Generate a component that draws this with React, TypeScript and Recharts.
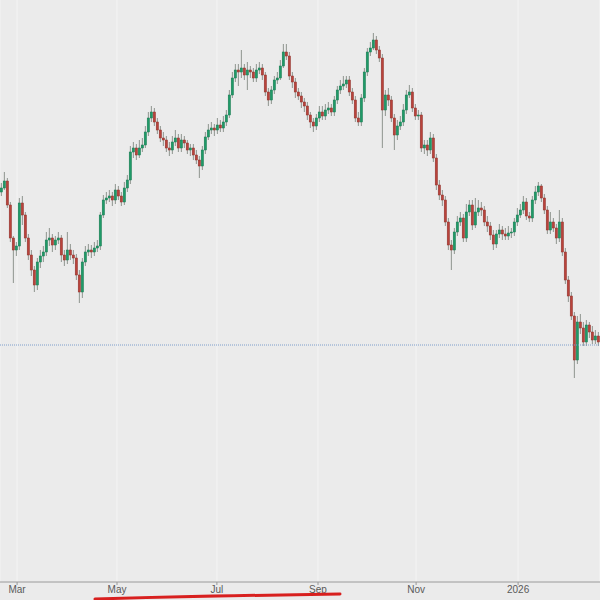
import React from "react";
import {
  ComposedChart,
  Bar,
  XAxis,
  YAxis,
  CartesianGrid,
  ReferenceLine,
} from "recharts";

// daily candles (arbitrary price units)
const firstOpen = 808;

const closes = [
  812, 819, 795, 762, 750, 754, 797, 785, 762, 745, 730, 715, 738, 744, 748, 760, 762, 755, 760, 762,
  745, 740, 750, 745, 742, 725, 708, 738, 748, 750, 748, 752, 754, 785, 800, 802, 804, 800, 810, 804,
  798, 812, 820, 848, 852, 845, 852, 855, 868, 882, 888, 878, 870, 862, 860, 852, 850, 858, 862, 852,
  860, 857, 850, 852, 845, 840, 834, 850, 863, 870, 872, 870, 875, 872, 878, 885, 905, 922, 930, 928,
  932, 925, 930, 928, 922, 930, 932, 925, 908, 900, 910, 920, 922, 934, 948, 944, 924, 918, 908, 904,
  898, 894, 885, 878, 874, 882, 888, 884, 890, 892, 888, 900, 910, 914, 916, 920, 908, 900, 882, 878,
  902, 928, 948, 952, 960, 950, 942, 890, 905, 900, 882, 865, 874, 878, 890, 905, 908, 892, 884, 885,
  852, 855, 850, 862, 842, 815, 805, 800, 778, 755, 750, 768, 778, 782, 762, 788, 795, 775, 788, 792,
  790, 778, 774, 765, 756, 766, 770, 766, 764, 767, 768, 778, 785, 790, 798, 784, 782, 800, 808, 814,
  802, 790, 770, 778, 772, 762, 778, 748, 720, 704, 684, 640, 678, 672, 658, 675, 668, 660, 664, 658,
];

const highs = [
  817, 828, 822, 798, 764, 758, 802, 804, 788, 766, 750, 734, 742, 750, 754, 768, 772, 766, 764, 768,
  765, 750, 768, 756, 750, 746, 730, 742, 754, 756, 755, 758, 760, 788, 805, 808, 810, 808, 816, 814,
  808, 818, 825, 854, 858, 856, 860, 862, 874, 888, 894, 892, 882, 874, 868, 864, 858, 864, 870, 866,
  866, 864, 860, 856, 856, 850, 844, 854, 868, 876, 878, 876, 882, 880, 884, 890, 910, 928, 936, 936,
  950, 936, 938, 934, 932, 936, 938, 936, 928, 912, 914, 924, 928, 940, 956, 956, 948, 928, 922, 912,
  908, 902, 898, 888, 882, 886, 894, 894, 896, 898, 896, 904, 914, 920, 924, 924, 924, 912, 904, 888,
  906, 932, 952, 958, 967, 964, 954, 946, 910, 912, 904, 886, 880, 884, 896, 910, 915, 912, 896, 890,
  888, 860, 860, 868, 866, 846, 820, 810, 804, 782, 760, 772, 784, 788, 786, 796, 800, 800, 802, 800,
  798, 794, 784, 778, 770, 770, 776, 774, 772, 774, 772, 782, 792, 796, 804, 802, 788, 804, 814, 818,
  816, 806, 794, 788, 782, 776, 790, 782, 752, 724, 708, 688, 684, 686, 678, 680, 678, 674, 670, 668,
];

const lows = [
  804, 810, 792, 758, 717, 744, 750, 775, 758, 740, 724, 708, 710, 732, 738, 744, 754, 748, 750, 756,
  738, 734, 736, 740, 736, 720, 697, 702, 734, 744, 742, 744, 748, 750, 782, 796, 798, 794, 796, 800,
  794, 795, 808, 816, 842, 840, 842, 848, 852, 864, 878, 874, 866, 858, 854, 848, 844, 846, 854, 848,
  848, 852, 846, 844, 840, 836, 822, 830, 846, 860, 866, 864, 866, 868, 868, 874, 882, 902, 918, 914,
  922, 920, 910, 922, 918, 918, 926, 920, 904, 894, 896, 906, 916, 920, 932, 940, 920, 912, 902, 900,
  892, 888, 880, 872, 868, 870, 878, 880, 880, 886, 884, 884, 896, 906, 910, 912, 904, 896, 878, 874,
  874, 898, 924, 944, 950, 946, 938, 852, 884, 894, 878, 850, 860, 870, 874, 886, 902, 888, 880, 880,
  848, 846, 844, 846, 838, 810, 800, 794, 774, 750, 730, 746, 764, 774, 758, 758, 784, 770, 772, 784,
  784, 774, 768, 760, 750, 752, 762, 760, 760, 760, 762, 764, 774, 782, 786, 780, 778, 778, 796, 804,
  798, 786, 766, 766, 768, 756, 758, 744, 716, 698, 680, 622, 636, 666, 654, 654, 662, 656, 656, 654,
];

// month ticks, in candle-index units
const tickIdx = [5.2, 38.5, 71.8, 105.5, 138.2, 172.2];
const tickLabels = ["Mar", "May", "Jul", "Sep", "Nov", "2026"];

const refLevel = 655;

const data = closes.map((c, i) => ({
  i,
  open: i === 0 ? firstOpen : closes[i - 1],
  close: c,
  high: highs[i],
  low: lows[i],
  range: [lows[i], highs[i]],
}));

const Candle = (props: any) => {
  const { x, y, width, height, payload } = props;
  if (!payload) return null;
  const { open, close, high, low } = payload;
  const top = height < 0 ? y + height : y;
  const h = Math.abs(height);
  const span = high - low || 1;
  const toY = (v: number) => top + ((high - v) / span) * h;
  const up = close >= open;
  const bTop = toY(Math.max(open, close));
  const bBot = toY(Math.min(open, close));
  const cx = x + width / 2;
  return (
    <g>
      <line x1={cx} x2={cx} y1={top} y2={top + h} stroke="#8e948e" strokeWidth={1} />
      <rect
        x={x + 0.2}
        y={bTop}
        width={Math.max(width - 0.4, 1)}
        height={Math.max(bBot - bTop, 1)}
        fill={up ? "#1f9a68" : "#b9433b"}
        stroke={up ? "#17784f" : "#8c302a"}
        strokeWidth={0.5}
      />
    </g>
  );
};

export default function App() {
  return (
    <div
      style={{
        position: "absolute",
        top: 0,
        left: 0,
        width: 600,
        height: 600,
        background: "#ebebeb",
      }}
    >
      <ComposedChart
        width={600}
        height={600}
        data={data}
        margin={{ top: 0, right: 0, bottom: 0, left: 0 }}
      >
        <CartesianGrid stroke="#f4f4f4" horizontal={false} />
        <XAxis
          dataKey="i"
          type="number"
          domain={[-0.5, 199.5]}
          ticks={tickIdx}
          tickFormatter={(v: number) => tickLabels[tickIdx.indexOf(v)] ?? ""}
          height={18}
          tickSize={3}
          tickMargin={1}
          stroke="#9a9a9a"
          tick={{ fill: "#5a5a5a", fontSize: 10, fontFamily: "Liberation Sans, Arial, sans-serif" }}
          allowDataOverflow
        />
        <YAxis hide domain={[418, 1000]} allowDataOverflow />
        <ReferenceLine y={refLevel} stroke="#7e9ecb" strokeDasharray="1 1" strokeWidth={1} />
        <Bar
          dataKey="range"
          barSize={3}
          shape={<Candle />}
          isAnimationActive={false}
        />
      </ComposedChart>
      <svg
        width={600}
        height={600}
        style={{ position: "absolute", top: 0, left: 0, pointerEvents: "none" }}
      >
        <path
          d="M 95 599 Q 200 596 340 594"
          stroke="#d8201f"
          strokeWidth={3}
          fill="none"
          strokeLinecap="round"
        />
      </svg>
    </div>
  );
}
